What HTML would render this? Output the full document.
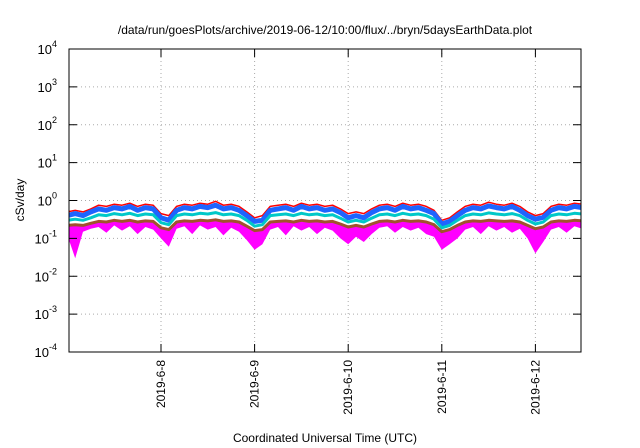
<!DOCTYPE html>
<html><head><meta charset="utf-8"><style>
body{margin:0;background:#fff;}
svg{display:block;font-family:"Liberation Sans",sans-serif;}
</style></head><body>
<svg id="chart" width="640" height="448" viewBox="0 0 640 448" xmlns="http://www.w3.org/2000/svg">
<text x="325" y="34" font-size="12" text-anchor="middle">/data/run/goesPlots/archive/2019-06-12/10:00/flux/../bryn/5daysEarthData.plot</text>
<text transform="translate(24,200) rotate(-90)" font-size="12" text-anchor="middle">cSv/day</text>
<text x="325" y="442" font-size="12" text-anchor="middle">Coordinated Universal Time (UTC)</text>
<g id="grid"></g>
<g id="series"></g>
<g id="axes"></g>
</svg>
<script>
const yTicks = [-4,-3,-2,-1,0,1,2,3,4];
const dayLabels = ["2019-6-8","2019-6-9","2019-6-10","2019-6-11","2019-6-12"];
const dayOffsets = [1,2,3,4,5];
const red = [0.5,0.55,0.5,0.6, 0.75,0.7,0.8,0.75,0.85,0.7,0.8,0.75, 0.45,0.4, 0.7,0.8,0.75,0.85,0.8,0.95,0.75,0.8,0.7, 0.5,0.35,0.4, 0.7,0.75,0.8,0.7,0.85,0.75,0.8,0.7,0.75, 0.6,0.45,0.5,0.45,0.6, 0.75,0.8,0.7,0.85,0.75,0.8,0.7, 0.55,0.3,0.35,0.5, 0.7,0.8,0.75,0.9,0.8,0.75,0.85,0.7, 0.5,0.4,0.45, 0.7,0.8,0.75,0.85,0.8];
const blue = [0.4,0.45,0.4,0.5, 0.6,0.55,0.65,0.6,0.7,0.55,0.65,0.6, 0.35,0.3, 0.55,0.65,0.6,0.7,0.65,0.75,0.6,0.65,0.55, 0.4,0.28,0.3, 0.55,0.6,0.65,0.55,0.7,0.6,0.65,0.55,0.6, 0.48,0.35,0.4,0.35,0.48, 0.6,0.65,0.55,0.7,0.6,0.65,0.55, 0.45,0.24,0.28,0.4, 0.55,0.65,0.6,0.72,0.65,0.6,0.7,0.55, 0.4,0.32,0.36, 0.55,0.65,0.6,0.7,0.65];
const cyan = [0.3,0.32,0.3,0.35, 0.42,0.4,0.45,0.42,0.46,0.4,0.44,0.42, 0.26,0.23, 0.4,0.44,0.42,0.46,0.44,0.48,0.42,0.44,0.4, 0.3,0.21,0.23, 0.4,0.42,0.44,0.4,0.46,0.42,0.44,0.4,0.42, 0.34,0.27,0.3,0.27,0.34, 0.42,0.44,0.4,0.46,0.42,0.44,0.4, 0.32,0.19,0.22,0.3, 0.4,0.44,0.42,0.47,0.44,0.42,0.45,0.4, 0.3,0.24,0.27, 0.4,0.44,0.42,0.46,0.44];
const brown = [0.22,0.23,0.22,0.25, 0.28,0.27,0.3,0.28,0.3,0.27,0.29,0.28, 0.19,0.17, 0.27,0.29,0.28,0.3,0.29,0.31,0.28,0.29,0.27, 0.21,0.16,0.17, 0.27,0.28,0.29,0.27,0.3,0.28,0.29,0.27,0.28, 0.24,0.2,0.22,0.2,0.24, 0.28,0.29,0.27,0.3,0.28,0.29,0.27, 0.23,0.15,0.17,0.22, 0.27,0.29,0.28,0.3,0.29,0.28,0.29,0.27, 0.22,0.18,0.2, 0.27,0.29,0.28,0.3,0.29];
const magenta = [0.12,0.03,0.15,0.18, 0.2,0.14,0.22,0.16,0.21,0.13,0.2,0.17, 0.1,0.06, 0.18,0.21,0.13,0.22,0.17,0.2,0.12,0.19,0.15, 0.09,0.05,0.07, 0.17,0.2,0.12,0.21,0.16,0.2,0.13,0.19,0.16, 0.1,0.07,0.11,0.08,0.13, 0.19,0.21,0.14,0.2,0.16,0.19,0.13, 0.11,0.05,0.07,0.1, 0.17,0.2,0.13,0.21,0.16,0.2,0.14,0.18, 0.1,0.04,0.08, 0.17,0.2,0.14,0.21,0.18];

const L=69,R=581,T=49,B=352;
const dayPx=93.6, x0=161-dayPx;
function xDay(d){return x0+d*dayPx;}
function y(v){return B-(Math.log10(v)+4)/8*(B-T);}
function yExp(e){return B-(e+4)/8*(B-T);}
const NS="http://www.w3.org/2000/svg";
function mk(tag,attrs,parent){const e=document.createElementNS(NS,tag);for(const k in attrs)e.setAttribute(k,attrs[k]);parent.appendChild(e);return e;}
const grid=document.getElementById('grid'),axes=document.getElementById('axes'),ser=document.getElementById('series');
yTicks.forEach(e=>{
  const yy=yExp(e);
  if(e>-4&&e<4){const g=mk('line',{x1:L,x2:R,y1:yy,y2:yy,stroke:'#aaa','stroke-dasharray':'1,3','stroke-width':1},grid);
  
  }
  const t1=mk('line',{x1:L,x2:L+8,y1:yy,y2:yy,stroke:'#000'},axes);
  
  
  const t2=mk('line',{x1:R-8,x2:R,y1:yy,y2:yy,stroke:'#000'},axes);
  
  
  const tx=mk('text',{x:L-12,y:yy+5,'font-size':13,'text-anchor':'end'},axes);
  
  
  tx.innerHTML='10<tspan dy="-7" font-size="9">'+e+'</tspan>';
});
dayOffsets.forEach((d,i)=>{
  const xx=xDay(d);
  const g=mk('line',{x1:xx,x2:xx,y1:T,y2:B,stroke:'#aaa','stroke-dasharray':'1,3'},grid);
  
  
  const t=mk('line',{x1:xx,x2:xx,y1:B-8,y2:B,stroke:'#000'},axes);
  
  
  const t2=mk('line',{x1:xx,x2:xx,y1:T,y2:T+8,stroke:'#000'},axes);
  
  
  const tx=mk('text',{transform:'translate('+(xx+4)+',360) rotate(-90)','font-size':12,'text-anchor':'end'},axes);
  
  
  tx.textContent=dayLabels[i];
});
const fr=mk('rect',{x:L,y:T,width:R-L,height:B-T,fill:'none',stroke:'#000','stroke-width':1},axes);


const cp=mk('clipPath',{id:'clip'},ser);mk('rect',{x:L,y:T,width:R-L,height:B-T},cp);
function pts(arr){return arr.map((v,i)=>xDay(i/12).toFixed(1)+','+y(v).toFixed(1));}
const mp=pts(magenta), bp=pts(brown).reverse();
const band=mk('polygon',{points:mp.concat(bp).join(' '),fill:'#ff00ff','clip-path':'url(#clip)'},ser);


[[red,'#ff0000',1.5,'series-red'],[blue,'#1e64ff',5,'series-blue'],[cyan,'#00c8c8',3,'series-cyan'],[brown,'#a0522d',3,'series-brown']].forEach(s=>{
  const p=mk('polyline',{points:pts(s[0]).join(' '),fill:'none',stroke:s[1],'stroke-width':s[2],'stroke-linejoin':'round','clip-path':'url(#clip)'},ser);
  
  
});
</script>
</body></html>
